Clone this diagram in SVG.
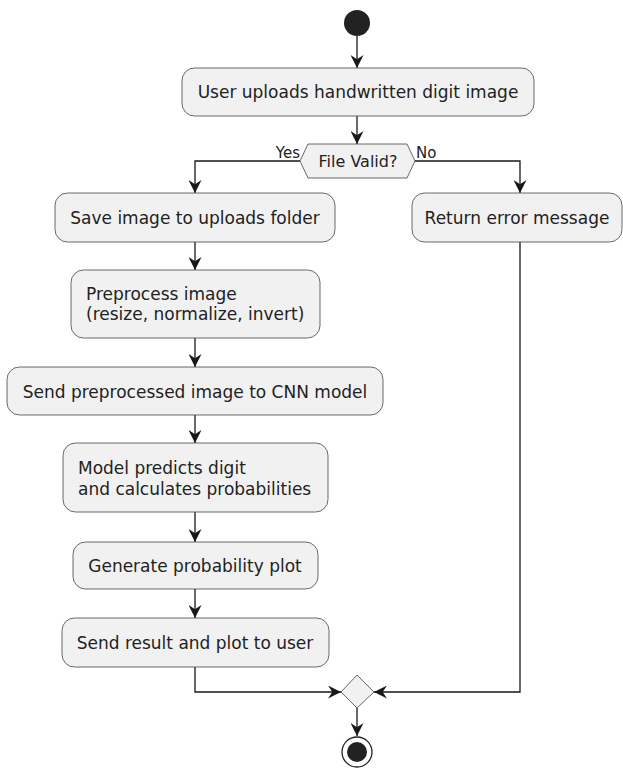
<svg xmlns="http://www.w3.org/2000/svg" width="623" height="770" viewBox="0 0 623 770">
  <style>
    .act { fill: #F1F1F1; stroke: #444444; stroke-width: 0.8; }
    .lbl { font-family: "DejaVu Sans", "Liberation Sans", sans-serif; font-size: 17px; fill: #222222; }
    .mid { text-anchor: middle; }
    .small { font-size: 15px; }
    .dec { font-size: 16px; }
    .edge { fill: none; stroke: #181818; stroke-width: 1.3; marker-end: url(#arrow); }
  </style>
  <defs>
    <marker id="arrow" viewBox="0 0 12 12" refX="12" refY="6" markerWidth="13" markerHeight="13" markerUnits="userSpaceOnUse" orient="auto">
      <path d="M0,0 L12,6 L0,12 L4,6 Z" fill="#181818"/>
    </marker>
  </defs>
  <rect width="623" height="770" fill="#FFFFFF"/>

  <g id="connectors">
    <path class="edge" d="M357,36 L357,68"/>
    <path class="edge" d="M357,116 L357,144"/>
    <path class="edge" d="M300,161 L195,161 L195,193"/>
    <path class="edge" d="M415,161 L520,161 L520,193"/>
    <path class="edge" d="M195,242 L195,270"/>
    <path class="edge" d="M195,338 L195,367"/>
    <path class="edge" d="M195,415 L195,443"/>
    <path class="edge" d="M195,512 L195,542"/>
    <path class="edge" d="M195,589 L195,618"/>
    <path class="edge" d="M195,667 L195,692 L341,692"/>
    <path class="edge" d="M520,242 L520,692 L374,692"/>
    <path class="edge" d="M357,708 L357,736"/>
    <text class="lbl small" x="300" y="158" text-anchor="end">Yes</text>
    <text class="lbl small" x="416" y="158">No</text>
  </g>

  <g id="start">
    <circle cx="357" cy="23" r="13" fill="#222222"/>
  </g>

  <g id="upload">
    <rect class="act" x="182" y="68" width="352" height="48" rx="12.5"/>
    <text class="lbl mid" x="358" y="98">User uploads handwritten digit image</text>
  </g>

  <g id="valid">
    <polygon class="act" points="300,161 308,144 407,144 415,161 407,178 308,178"/>
    <text class="lbl mid dec" x="358" y="167">File Valid?</text>
  </g>

  <g id="save">
    <rect class="act" x="55" y="193" width="280" height="49" rx="12.5"/>
    <text class="lbl mid" x="195" y="224">Save image to uploads folder</text>
  </g>

  <g id="error">
    <rect class="act" x="412" y="193" width="210" height="49" rx="12.5"/>
    <text class="lbl mid" x="517" y="224">Return error message</text>
  </g>

  <g id="preprocess">
    <rect class="act" x="71" y="270" width="249" height="68" rx="12.5"/>
    <text class="lbl" x="86" y="300">Preprocess image</text>
    <text class="lbl" x="86" y="320">(resize, normalize, invert)</text>
  </g>

  <g id="send-cnn">
    <rect class="act" x="7" y="367" width="376" height="48" rx="12.5"/>
    <text class="lbl mid" x="195" y="398">Send preprocessed image to CNN model</text>
  </g>

  <g id="predict">
    <rect class="act" x="63" y="443" width="265" height="69" rx="12.5"/>
    <text class="lbl" x="78" y="474">Model predicts digit</text>
    <text class="lbl" x="78" y="495">and calculates probabilities</text>
  </g>

  <g id="plot">
    <rect class="act" x="73" y="542" width="245" height="47" rx="12.5"/>
    <text class="lbl mid" x="195" y="572">Generate probability plot</text>
  </g>

  <g id="send-result">
    <rect class="act" x="62" y="618" width="267" height="49" rx="12.5"/>
    <text class="lbl mid" x="195" y="649">Send result and plot to user</text>
  </g>

  <g id="merge">
    <polygon class="act" points="357,675 374,692 357,708 341,692"/>
  </g>

  <g id="end">
    <circle cx="357" cy="752" r="15" fill="none" stroke="#222222" stroke-width="1.3"/>
    <circle cx="357" cy="752" r="10" fill="#222222"/>
  </g>
</svg>
